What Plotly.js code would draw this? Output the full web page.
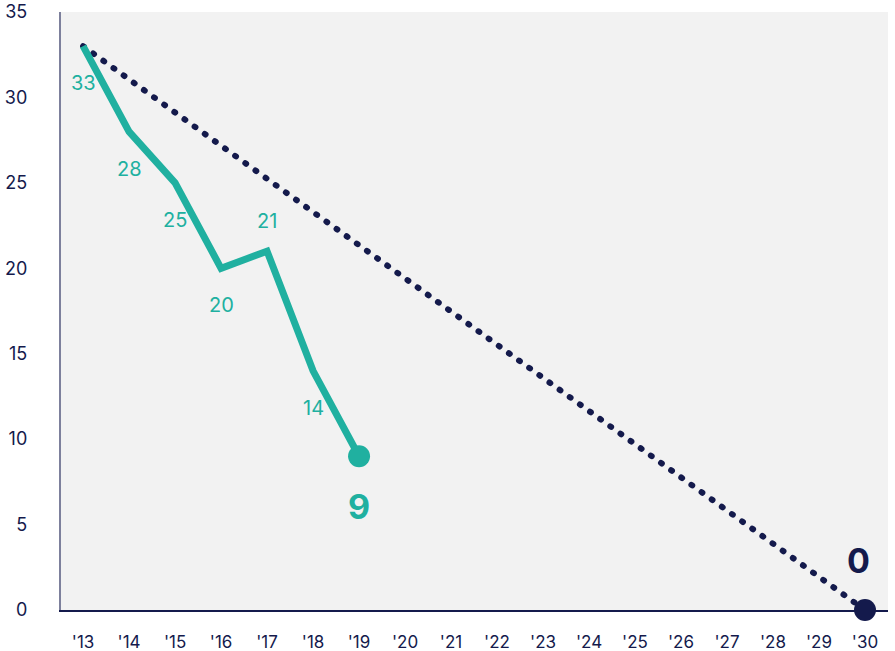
<!DOCTYPE html>
<html><head><meta charset="utf-8">
<script src="https://cdn.plot.ly/plotly-3.0.1.min.js"></script>
<style>body{margin:0;background:#fff}#c{width:895px;height:651px}
.scatterlayer .trace:first-child path.js-line{stroke-linecap:round}</style>
</head><body><div id="c"></div>
<script>
const years = [13,14,15,16,17,18,19];
const actual = [33,28,25,20,21,14,9];
const targetYears = [13,30];
const target = [33,0];
const tickVals = [13,14,15,16,17,18,19,20,21,22,23,24,25,26,27,28,29,30];
const tickText = tickVals.map(v => "'" + v);
const labelAbove = [false,false,false,false,true,false];

const teal = '#20b0a0';
const navy = '#141a4c';
const font = 'Inter, "Open Sans", sans-serif';

const traces = [
  {x: targetYears, y: target, mode: 'lines', line: {color: navy, width: 6, dash: '1px,11.5px'}, hoverinfo: 'skip'},
  {x: years, y: actual, mode: 'lines', line: {color: teal, width: 7}, hoverinfo: 'skip'},
  {x: [years[years.length-1]], y: [actual[actual.length-1]], mode: 'markers', marker: {color: teal, size: 22}, hoverinfo: 'skip', cliponaxis: false},
  {x: [targetYears[1]], y: [target[1]], mode: 'markers', marker: {color: navy, size: 22}, hoverinfo: 'skip', cliponaxis: false}
];

const annotations = [];
for (let i = 0; i < years.length - 1; i++) {
  annotations.push({x: years[i], y: actual[i], text: String(actual[i]), showarrow: false,
    yshift: labelAbove[i] ? 30 : -37, font: {family: font, size: 20, color: teal}});
}
annotations.push({x: years[years.length-1], y: actual[actual.length-1], text: '<b>' + actual[actual.length-1] + '</b>',
  showarrow: false, yshift: -50, font: {family: font, size: 34, color: teal}});
annotations.push({x: targetYears[1], y: target[1], text: '<b>' + target[1] + '</b>',
  showarrow: false, yshift: 50, xshift: -7, font: {family: font, size: 34, color: navy}});

const layout = {
  width: 895, height: 651,
  margin: {l: 61, r: 7, t: 12, b: 41},
  paper_bgcolor: '#ffffff', plot_bgcolor: '#f2f2f2',
  showlegend: false,
  font: {family: font, color: navy},
  xaxis: {range: [12.52, 30.5], tickvals: tickVals, ticktext: tickText, showgrid: false, zeroline: false,
    showline: true, linecolor: navy, linewidth: 1.5, ticks: 'outside', ticklen: 16, tickcolor: 'rgba(0,0,0,0)',
    tickfont: {size: 17, color: navy}},
  yaxis: {range: [0, 35], dtick: 5, tick0: 0, showgrid: false, zeroline: false,
    showline: true, linecolor: '#7d809c', linewidth: 2, ticks: 'outside', ticklen: 18, tickcolor: 'rgba(0,0,0,0)',
    ticksuffix: '\u00a0\u00a0', tickfont: {size: 18, color: navy}},
  annotations: annotations
};
Plotly.newPlot('c', traces, layout, {displayModeBar: false, staticPlot: true});
</script></body></html>
